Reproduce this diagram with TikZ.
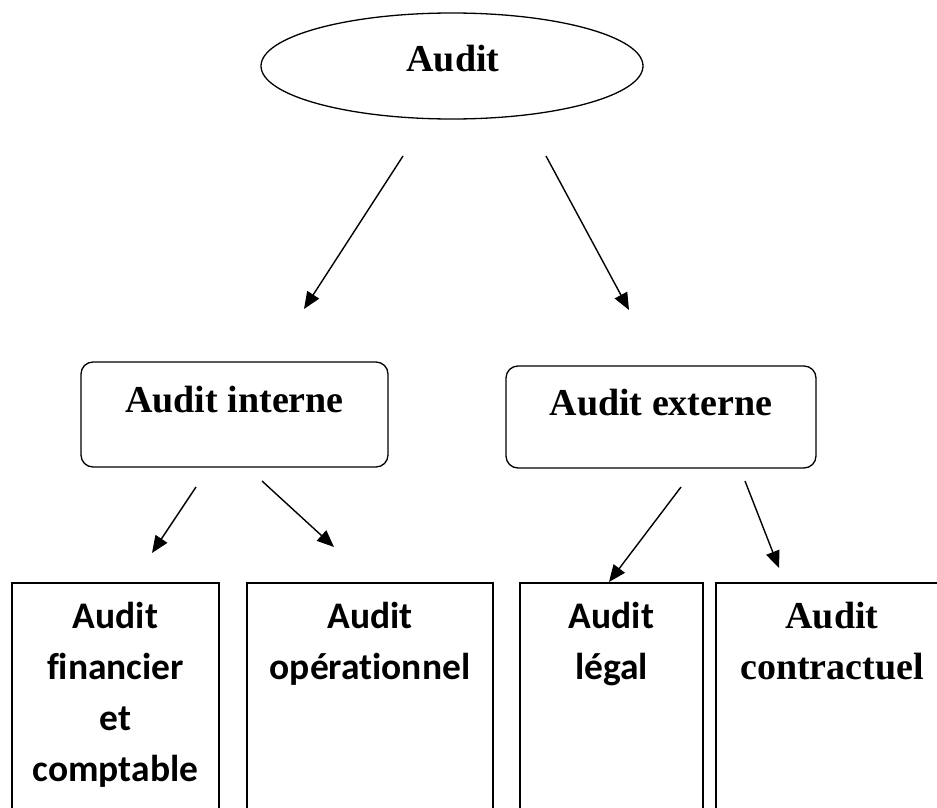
\documentclass[tikz,border=0pt]{standalone}
\usepackage{fontspec}
\usetikzlibrary{shapes.geometric,arrows.meta}
\newfontfamily\timesfont{Liberation Serif}
\newfontfamily\carlitofont[Ligatures=NoCommon]{Carlito}

\begin{document}
\begin{tikzpicture}[x=1pt,y=-1pt,
  frame/.style={draw,line width=1.3pt,inner sep=0pt,outer sep=0pt},
  roundbox/.style={frame,rectangle,rounded corners=12pt},
  leafbox/.style={draw,line width=1.9pt,rectangle,inner sep=0pt,outer sep=0pt},
  link/.style={line width=1.4pt,-{Triangle[length=17pt,width=14pt]}},
  serifbig/.style={anchor=base,inner sep=0pt,font=\timesfont\bfseries\fontsize{38}{51}\selectfont},
  sansbig/.style={anchor=base,inner sep=0pt,font=\carlitofont\bfseries\fontsize{37.5}{51}\selectfont}]

\useasboundingbox (0,0) rectangle (937,808);
\clip (0,0) rectangle (937,808);

% root
\node[frame,ellipse,minimum width=382pt,minimum height=106pt] (root) at (452,66) {};
\node[serifbig] (rootlbl) at (453,72) {Audit};

% second level
\node[roundbox,minimum width=307pt,minimum height=105pt] (interne) at (234.5,414.5) {};
\node[serifbig] (internelbl) at (234.5,412) {Audit interne};
\node[roundbox,minimum width=310pt,minimum height=102pt] (externe) at (661,417) {};
\node[serifbig] (externelbl) at (661,415) {Audit externe};

% leaves (they run past the lower edge)
\node[leafbox,minimum width=207pt,minimum height=247pt] (fin) at (115.5,706.5) {};
\node[leafbox,minimum width=246pt,minimum height=247pt] (ope) at (370,706.5) {};
\node[leafbox,minimum width=183pt,minimum height=247pt] (leg) at (611.5,706.5) {};
\node[leafbox,minimum width=232pt,minimum height=247pt] (con) at (832,706.5) {};

\node[sansbig] (finlbl) at (115.5,628) {\begin{tabular}[t]{@{}c@{}}Audit\\financier\\et\\comptable\end{tabular}};
\node[sansbig] (opelbl) at (370,628) {\begin{tabular}[t]{@{}c@{}}Audit\\opérationnel\end{tabular}};
\node[sansbig] (leglbl) at (611.5,628) {\begin{tabular}[t]{@{}c@{}}Audit\\légal\end{tabular}};
\node[serifbig] (conlbl) at (832,628) {\begin{tabular}[t]{@{}c@{}}Audit\\contractuel\end{tabular}};

% free-standing arrows
\coordinate (a1s) at (403,156); \coordinate (a1e) at (304,309);
\coordinate (a2s) at (546,156); \coordinate (a2e) at (629,310);
\coordinate (a3s) at (196,487); \coordinate (a3e) at (152,553);
\coordinate (a4s) at (262,481); \coordinate (a4e) at (334,547);
\coordinate (a5s) at (681,487); \coordinate (a5e) at (609,582);
\coordinate (a6s) at (745,481); \coordinate (a6e) at (779,568);

\draw[link] (a1s) -- (a1e);
\draw[link] (a2s) -- (a2e);
\draw[link] (a3s) -- (a3e);
\draw[link] (a4s) -- (a4e);
\draw[link] (a5s) -- (a5e);
\draw[link] (a6s) -- (a6e);
\end{tikzpicture}
\end{document}
